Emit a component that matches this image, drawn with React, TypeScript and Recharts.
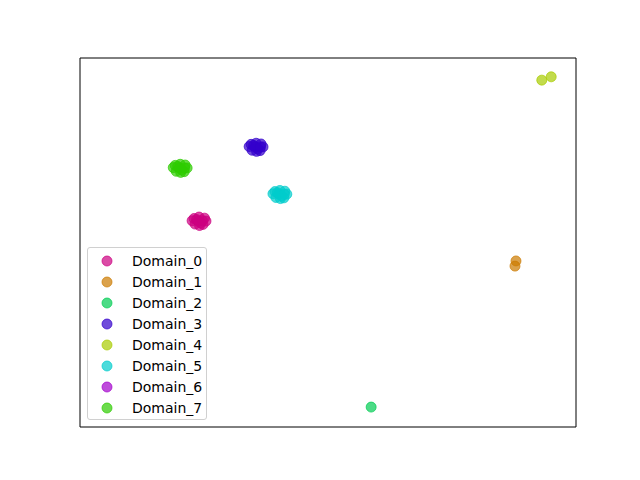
import { ScatterChart, Scatter, XAxis, YAxis, ReferenceArea } from "recharts";

type Pt = { x: number; y: number };
const pts = (a: number[][]): Pt[] => a.map(([x, y]) => ({ x, y }));

const domainNames = ["Domain_0", "Domain_1", "Domain_2", "Domain_3", "Domain_4", "Domain_5", "Domain_6", "Domain_7"];
const domainColors = ["#cc0080", "#cc7a00", "#00cc52", "#3300cc", "#a8cc00", "#00cccc", "#a300cc", "#2ecc00"];

const domain0 = pts([
  [22.6, 55.9], [23.2, 55.0], [24.0, 56.9], [24.8, 54.9], [25.4, 55.8], [23.8, 55.8],
  [24.3, 55.3], [23.0, 56.5], [25.1, 56.6], [24.1, 54.6], [23.5, 56.2], [24.7, 55.9],
]);
const domain1 = pts([[87.9, 45.0], [87.7, 43.6]]);
const domain2 = pts([[58.7, 5.4]]);
const domain3 = pts([
  [34.1, 76.0], [34.7, 75.0], [35.5, 76.9], [36.3, 74.9], [36.9, 75.9], [35.3, 75.9],
  [35.8, 75.4], [34.5, 76.6], [36.5, 76.7], [35.6, 74.7], [35.0, 76.3], [36.4, 75.9],
]);
const domain4 = pts([[93.1, 94.0], [95.0, 94.9]]);
const domain5 = pts([
  [38.9, 63.2], [39.5, 62.2], [40.3, 64.1], [41.1, 62.1], [41.7, 63.1], [40.1, 63.1],
  [40.6, 62.6], [39.3, 63.8], [41.3, 63.9], [40.4, 61.9], [39.8, 63.5], [41.2, 63.1],
]);
const domain6: Pt[] = [];
const domain7 = pts([
  [18.8, 70.3], [19.4, 69.3], [20.2, 71.2], [21.0, 69.2], [21.6, 70.2], [20.0, 70.2],
  [20.5, 69.7], [19.2, 70.9], [21.2, 71.0], [20.3, 69.0], [19.7, 70.6], [21.1, 70.2],
]);

const allData = [domain0, domain1, domain2, domain3, domain4, domain5, domain6, domain7];

const dot = (color: string) => (props: any) => (
  <circle cx={props.cx} cy={props.cy} r={5} fill={color} fillOpacity={0.7} stroke={color} strokeOpacity={0.7} strokeWidth={1} />
);

export default function App() {
  return (
    <div style={{ position: "fixed", left: 0, top: 0, width: 640, height: 480, background: "#fff", fontFamily: "DejaVu Sans" }}>
      <ScatterChart width={640} height={480} margin={{ top: 58, right: 64, bottom: 53, left: 80 }}>
        <XAxis type="number" dataKey="x" domain={[0, 100]} hide />
        <YAxis type="number" dataKey="y" domain={[0, 100]} hide />
        <ReferenceArea x1={0} x2={100} y1={0} y2={100} fill="none" stroke="#000" strokeWidth={1} />
        {allData.map((d, i) => (
          <Scatter key={domainNames[i]} name={domainNames[i]} data={d} shape={dot(domainColors[i])} isAnimationActive={false} />
        ))}
      </ScatterChart>
      <div
        style={{
          position: "absolute", left: 87, top: 247, width: 120, height: 173,
          border: "1px solid #d0d0d0", borderRadius: 3, background: "rgba(255,255,255,0.8)",
          boxSizing: "border-box", paddingTop: 2,
        }}
      >
        {domainNames.map((n, i) => (
          <div key={n} style={{ height: 21, display: "flex", alignItems: "center", fontSize: 14, color: "#000" }}>
            <svg width={40} height={14} style={{ flex: "none" }}>
              <circle cx={19} cy={7} r={5} fill={domainColors[i]} fillOpacity={0.7} stroke={domainColors[i]} strokeOpacity={0.7} />
            </svg>
            <span style={{ marginLeft: 4 }}>{n}</span>
          </div>
        ))}
      </div>
    </div>
  );
}
